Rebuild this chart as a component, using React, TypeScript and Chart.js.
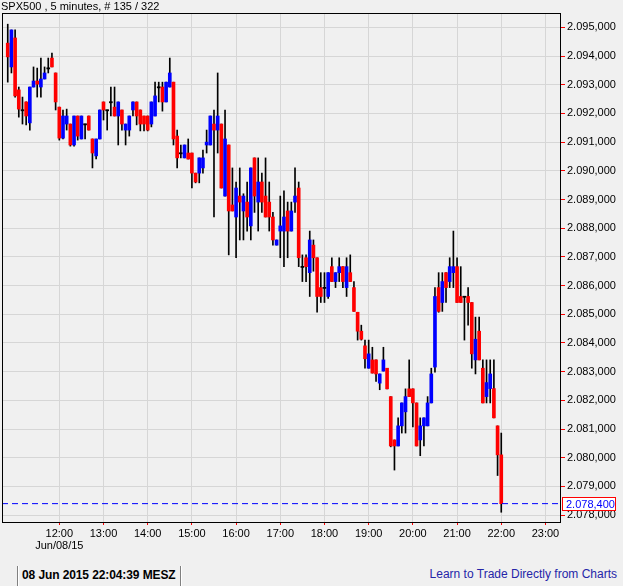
import React, { useEffect, useRef } from "react";
import { Chart, registerables } from "chart.js";

Chart.register(...registerables);

// ---- data (SPX500, 5-minute candles, first candle 10:50) ----
const firstCandleTime = "10:50";
const candleMinutes = 5;

const opens = [
  2094.45, 2093.62, 2094.63, 2092.82, 2092.12, 2092.40, 2091.67, 2092.92, 2093.13, 2092.92,
  2093.20, 2093.58, 2093.93, 2093.41, 2092.22, 2091.14, 2091.63, 2091.63, 2090.90, 2091.91,
  2091.11, 2091.63, 2091.91, 2091.11, 2090.52, 2091.11, 2092.40, 2092.12, 2092.40, 2092.22,
  2091.91, 2092.12, 2091.42, 2091.42, 2092.12, 2092.40, 2092.12, 2091.91, 2091.91, 2091.63,
  2091.91, 2092.92, 2092.92, 2092.40, 2092.92, 2093.09, 2091.21, 2090.62, 2090.45, 2090.62,
  2090.62, 2089.92, 2089.92, 2090.10, 2090.90, 2090.90, 2091.63, 2091.42, 2091.63, 2089.12,
  2090.90, 2088.81, 2088.39, 2089.12, 2088.60, 2088.91, 2088.08, 2090.45, 2088.91, 2089.61,
  2089.12, 2088.91, 2088.39, 2087.41, 2087.90, 2087.90, 2088.60, 2087.90, 2088.91, 2089.40,
  2086.66, 2086.97, 2086.45, 2087.41, 2086.97, 2085.93, 2085.93, 2085.62, 2086.66, 2086.14,
  2086.45, 2086.66, 2085.93, 2086.45, 2085.93, 2085.07, 2084.41, 2083.90, 2083.12, 2083.41,
  2083.41, 2082.60, 2083.02, 2083.12, 2082.13, 2080.62, 2080.41, 2081.11, 2081.60, 2082.40,
  2082.40, 2081.91, 2080.62, 2081.11, 2081.11, 2081.91, 2083.16, 2085.93, 2085.41, 2086.45,
  2086.14, 2086.45, 2086.66, 2085.62, 2085.62, 2085.62, 2085.41, 2083.41, 2084.41, 2083.12,
  2082.13, 2082.41, 2082.41, 2081.11, 2080.10,
];

const highs = [
  2095.11, 2094.91, 2094.91, 2092.92, 2092.57, 2092.40, 2092.92, 2093.62, 2093.58, 2093.93,
  2093.62, 2093.93, 2094.10, 2093.41, 2092.22, 2092.12, 2092.15, 2091.63, 2091.91, 2091.91,
  2091.91, 2091.63, 2091.91, 2091.11, 2091.11, 2092.12, 2092.40, 2092.12, 2092.92, 2092.92,
  2092.40, 2092.12, 2091.63, 2091.91, 2092.40, 2092.40, 2092.12, 2091.91, 2091.91, 2092.40,
  2093.09, 2093.09, 2093.09, 2093.09, 2093.93, 2093.09, 2091.42, 2090.90, 2090.90, 2091.11,
  2090.62, 2089.92, 2090.45, 2090.72, 2091.42, 2091.91, 2092.12, 2093.41, 2091.63, 2092.12,
  2090.90, 2090.10, 2089.61, 2090.10, 2089.20, 2089.61, 2090.10, 2090.45, 2090.45, 2089.92,
  2090.45, 2089.61, 2088.55, 2087.59, 2089.12, 2089.30, 2088.91, 2088.91, 2090.10, 2089.61,
  2087.07, 2087.07, 2087.90, 2087.59, 2086.97, 2086.45, 2086.45, 2086.45, 2086.97, 2086.45,
  2086.97, 2086.66, 2086.97, 2087.07, 2086.14, 2085.07, 2084.62, 2084.10, 2084.10, 2083.85,
  2083.41, 2082.92, 2083.85, 2083.12, 2082.13, 2080.62, 2081.39, 2081.91, 2082.40, 2083.41,
  2082.40, 2081.91, 2081.39, 2081.39, 2082.13, 2083.12, 2085.93, 2086.45, 2086.45, 2086.45,
  2086.97, 2087.90, 2086.97, 2086.66, 2085.62, 2085.93, 2085.41, 2084.90, 2084.90, 2083.41,
  2083.41, 2083.41, 2083.41, 2081.11, 2080.86,
];

const lows = [
  2093.09, 2093.41, 2092.57, 2091.87, 2091.63, 2091.60, 2091.42, 2092.92, 2092.57, 2092.57,
  2093.20, 2093.41, 2093.62, 2092.12, 2091.07, 2091.11, 2091.42, 2090.86, 2090.86, 2091.07,
  2091.11, 2091.11, 2091.42, 2090.10, 2090.41, 2091.11, 2091.77, 2091.42, 2091.91, 2091.91,
  2090.90, 2091.42, 2090.90, 2091.21, 2091.91, 2091.60, 2091.39, 2091.39, 2091.39, 2091.53,
  2091.91, 2092.40, 2092.08, 2092.40, 2092.92, 2090.90, 2090.10, 2090.45, 2090.45, 2090.41,
  2089.40, 2089.58, 2089.58, 2089.92, 2090.62, 2090.90, 2088.39, 2090.62, 2089.40, 2089.12,
  2087.07, 2088.60, 2086.97, 2087.59, 2087.59, 2087.90, 2087.59, 2088.55, 2087.90, 2088.55,
  2088.39, 2087.90, 2087.41, 2087.41, 2086.97, 2086.66, 2086.97, 2087.90, 2088.55, 2086.66,
  2086.14, 2086.14, 2085.62, 2086.50, 2085.07, 2085.41, 2085.41, 2085.55, 2086.14, 2085.93,
  2086.14, 2085.93, 2085.62, 2086.14, 2085.10, 2084.10, 2084.10, 2083.12, 2083.12, 2082.95,
  2082.66, 2082.37, 2083.02, 2082.40, 2080.38, 2079.57, 2080.41, 2080.86, 2080.86, 2082.13,
  2081.07, 2080.41, 2080.07, 2080.41, 2081.11, 2081.91, 2082.98, 2085.07, 2085.10, 2085.41,
  2085.93, 2085.93, 2085.41, 2085.41, 2084.10, 2084.62, 2083.12, 2082.92, 2083.41, 2081.91,
  2081.91, 2081.91, 2081.39, 2079.38, 2078.10,
];

const closes = [
  2093.97, 2094.91, 2092.61, 2092.15, 2092.10, 2091.91, 2092.92, 2093.13, 2093.02, 2093.20,
  2093.41, 2093.56, 2093.62, 2092.40, 2091.14, 2091.91, 2091.91, 2090.90, 2091.91, 2091.21,
  2091.91, 2091.61, 2091.42, 2090.62, 2091.11, 2092.12, 2092.12, 2092.10, 2092.38, 2091.91,
  2092.40, 2091.63, 2091.63, 2091.91, 2092.40, 2091.91, 2091.63, 2091.63, 2091.42, 2092.40,
  2092.61, 2092.90, 2092.40, 2093.09, 2093.41, 2091.11, 2090.45, 2090.60, 2090.90, 2090.41,
  2089.92, 2089.61, 2090.45, 2090.45, 2091.00, 2091.91, 2091.42, 2091.91, 2089.40, 2091.11,
  2088.60, 2088.60, 2089.40, 2088.91, 2089.12, 2088.39, 2090.10, 2089.12, 2089.61, 2088.91,
  2088.39, 2088.39, 2087.59, 2087.59, 2088.08, 2088.39, 2087.90, 2088.60, 2089.12, 2086.97,
  2086.64, 2086.66, 2087.59, 2086.97, 2085.62, 2085.62, 2085.91, 2086.45, 2086.14, 2086.45,
  2086.66, 2086.14, 2086.66, 2086.14, 2085.10, 2084.41, 2084.13, 2083.45, 2083.62, 2082.95,
  2082.92, 2082.92, 2083.41, 2082.40, 2080.41, 2080.41, 2081.11, 2081.91, 2082.13, 2082.13,
  2081.91, 2080.41, 2081.11, 2081.39, 2081.91, 2082.92, 2085.62, 2085.10, 2086.14, 2085.93,
  2086.66, 2086.66, 2085.41, 2085.41, 2085.60, 2085.41, 2083.62, 2084.13, 2083.41, 2081.91,
  2082.62, 2082.92, 2081.39, 2080.10, 2078.40,
];

const hourLabels = [
  "12:00", "13:00", "14:00", "15:00", "16:00", "17:00",
  "18:00", "19:00", "20:00", "21:00", "22:00", "23:00",
];
const dateLabel = "Jun/08/15";
const priceTicks = [
  2078, 2079, 2080, 2081, 2082, 2083, 2084, 2085, 2086,
  2087, 2088, 2089, 2090, 2091, 2092, 2093, 2094, 2095,
];
const lastPrice = 2078.4;
const titleText = "SPX500 , 5 minutes, # 135 / 322";
const statusText = "08 Jun 2015 22:04:39 MESZ";
const linkText = "Learn to Trade Directly from Charts";

// ---- helpers ----
const FONT = '"Liberation Sans", Arial, sans-serif';
const X_MIN = -1.56;
const X_MAX = 149.95;
const Y_MIN = 2077.76;
const Y_MAX = 2095.5;

function toMinutes(t: string) {
  const [h, m] = t.split(":").map(Number);
  return h * 60 + m;
}
const hourTickIndex = hourLabels.map(
  (l) => (toMinutes(l) - toMinutes(firstCandleTime)) / candleMinutes
);

function fmtDE(v: number) {
  const s = v.toFixed(3);
  const [intPart, dec] = s.split(".");
  return intPart.replace(/\B(?=(\d{3})+(?!\d))/g, ".") + "," + dec;
}

export default function App() {
  const ref = useRef<HTMLCanvasElement | null>(null);

  useEffect(() => {
    document.body.style.margin = "0";
    const canvas = ref.current;
    if (!canvas) return;

    const idx = opens.map((_, i) => i);
    const isDoji = (i: number) => Math.abs(closes[i] - opens[i]) < 0.05;
    const bodies = idx.map((i) => {
      const o = opens[i];
      const c = closes[i];
      if (isDoji(i)) {
        const m = (o + c) / 2;
        return { x: i, y: [m - 0.02, m + 0.02] };
      }
      return { x: i, y: [Math.min(o, c), Math.max(o, c)] };
    });
    const bodyColors = idx.map((i) =>
      isDoji(i) ? "#000000" : closes[i] > opens[i] ? "#0000ff" : "#ff0000"
    );
    const wicks = idx.map((i) => ({ x: i, y: [lows[i], highs[i]] }));

    const framePlugin = {
      id: "frame",
      afterDraw(chart: any) {
        const { ctx, chartArea } = chart;
        const { left, top, right, bottom } = chartArea;
        ctx.save();
        ctx.strokeStyle = "#000000";
        ctx.lineWidth = 1;
        ctx.strokeRect(left + 0.5, top + 0.5, right - left, bottom - top);
        // last price box
        const y = Math.round(chart.scales.y.getPixelForValue(lastPrice));
        ctx.fillStyle = "#ffffff";
        ctx.fillRect(563, y - 6, 53, 12);
        ctx.strokeStyle = "#ff0000";
        ctx.strokeRect(562.5, y - 6.5, 53, 13);
        ctx.fillStyle = "#0000ff";
        ctx.font = `11px ${FONT}`;
        ctx.textBaseline = "middle";
        ctx.textAlign = "left";
        ctx.fillText(fmtDE(lastPrice), 566, y + 0.5);
        ctx.restore();
      },
    };

    const chart = new Chart(canvas, {
      type: "bar",
      data: {
        datasets: [
          {
            type: "line",
            data: [
              { x: X_MIN, y: lastPrice },
              { x: X_MAX, y: lastPrice },
            ],
            borderColor: "#0000ff",
            borderWidth: 1,
            borderDash: [6, 4],
            pointRadius: 0,
            order: 0,
          } as any,
          {
            type: "bar",
            data: bodies as any,
            backgroundColor: bodyColors,
            borderWidth: 0,
            barThickness: 3,
            grouped: false,
            order: 1,
          } as any,
          {
            type: "bar",
            data: wicks as any,
            backgroundColor: "#000000",
            borderWidth: 0,
            barThickness: 1,
            grouped: false,
            order: 2,
          } as any,
        ],
      },
      options: {
        responsive: false,
        animation: false,
        devicePixelRatio: 1,
        layout: { padding: { left: 2, top: 13, right: 0, bottom: 0 } },
        plugins: {
          legend: { display: false },
          tooltip: { enabled: false },
          title: { display: false },
        },
        scales: {
          x: {
            type: "linear",
            min: X_MIN,
            max: X_MAX,
            offset: false,
            border: { display: false },
            grid: {
              color: "#d6d6d6",
              lineWidth: 1,
              tickColor: "#ff0000",
              tickLength: 3,
              offset: false,
            },
            afterBuildTicks: (s: any) => {
              s.ticks = hourTickIndex.map((v) => ({ value: v }));
            },
            afterFit: (s: any) => {
              s.height = 38;
            },
            ticks: {
              autoSkip: false,
              maxRotation: 0,
              minRotation: 0,
              padding: 3,
              color: "#000000",
              font: { family: FONT, size: 11, lineHeight: 1.1 },
              callback: (v: any) => {
                const k = hourTickIndex.indexOf(Number(v));
                if (k < 0) return "";
                return k === 0 ? [hourLabels[k], dateLabel] : hourLabels[k];
              },
            },
          },
          y: {
            type: "linear",
            position: "right",
            min: Y_MIN,
            max: Y_MAX,
            beginAtZero: false,
            border: { display: false },
            grid: {
              color: "#d6d6d6",
              lineWidth: 1,
              tickColor: "#ff0000",
              tickLength: 5,
            },
            afterBuildTicks: (s: any) => {
              s.ticks = priceTicks.map((v) => ({ value: v }));
            },
            afterFit: (s: any) => {
              s.width = 63;
            },
            ticks: {
              autoSkip: false,
              padding: 2,
              color: "#000000",
              font: { family: FONT, size: 11 },
              callback: (v: any) => fmtDE(Number(v)),
            },
          },
        },
      } as any,
      plugins: [framePlugin],
    });

    return () => chart.destroy();
  }, []);

  return (
    <div
      style={{
        position: "absolute",
        left: 0,
        top: 0,
        width: 623,
        height: 586,
        background: "#f0f0f0",
        fontFamily: FONT,
        overflow: "hidden",
      }}
    >
      <canvas
        ref={ref}
        width={623}
        height={560}
        style={{ position: "absolute", left: 0, top: 0, width: 623, height: 560 }}
      />
      <div
        style={{
          position: "absolute",
          left: 1,
          top: 0,
          fontSize: 11,
          lineHeight: "13px",
          color: "#000",
          whiteSpace: "nowrap",
        }}
      >
        {titleText}
      </div>
      <div style={{ position: "absolute", left: 17, top: 566, width: 1, height: 20, background: "#808080" }} />
      <div style={{ position: "absolute", left: 18, top: 566, width: 1, height: 20, background: "#ffffff" }} />
      <div style={{ position: "absolute", left: 180, top: 566, width: 1, height: 20, background: "#808080" }} />
      <div style={{ position: "absolute", left: 181, top: 566, width: 1, height: 20, background: "#ffffff" }} />
      <div
        style={{
          position: "absolute",
          left: 22,
          top: 568,
          fontSize: 12,
          fontWeight: "bold",
          lineHeight: "15px",
          letterSpacing: "-0.1px",
          color: "#000",
          whiteSpace: "nowrap",
        }}
      >
        {statusText}
      </div>
      <div
        style={{
          position: "absolute",
          right: 6,
          top: 567,
          fontSize: 12,
          lineHeight: "15px",
          color: "#2525a8",
          whiteSpace: "nowrap",
        }}
      >
        {linkText}
      </div>
    </div>
  );
}
